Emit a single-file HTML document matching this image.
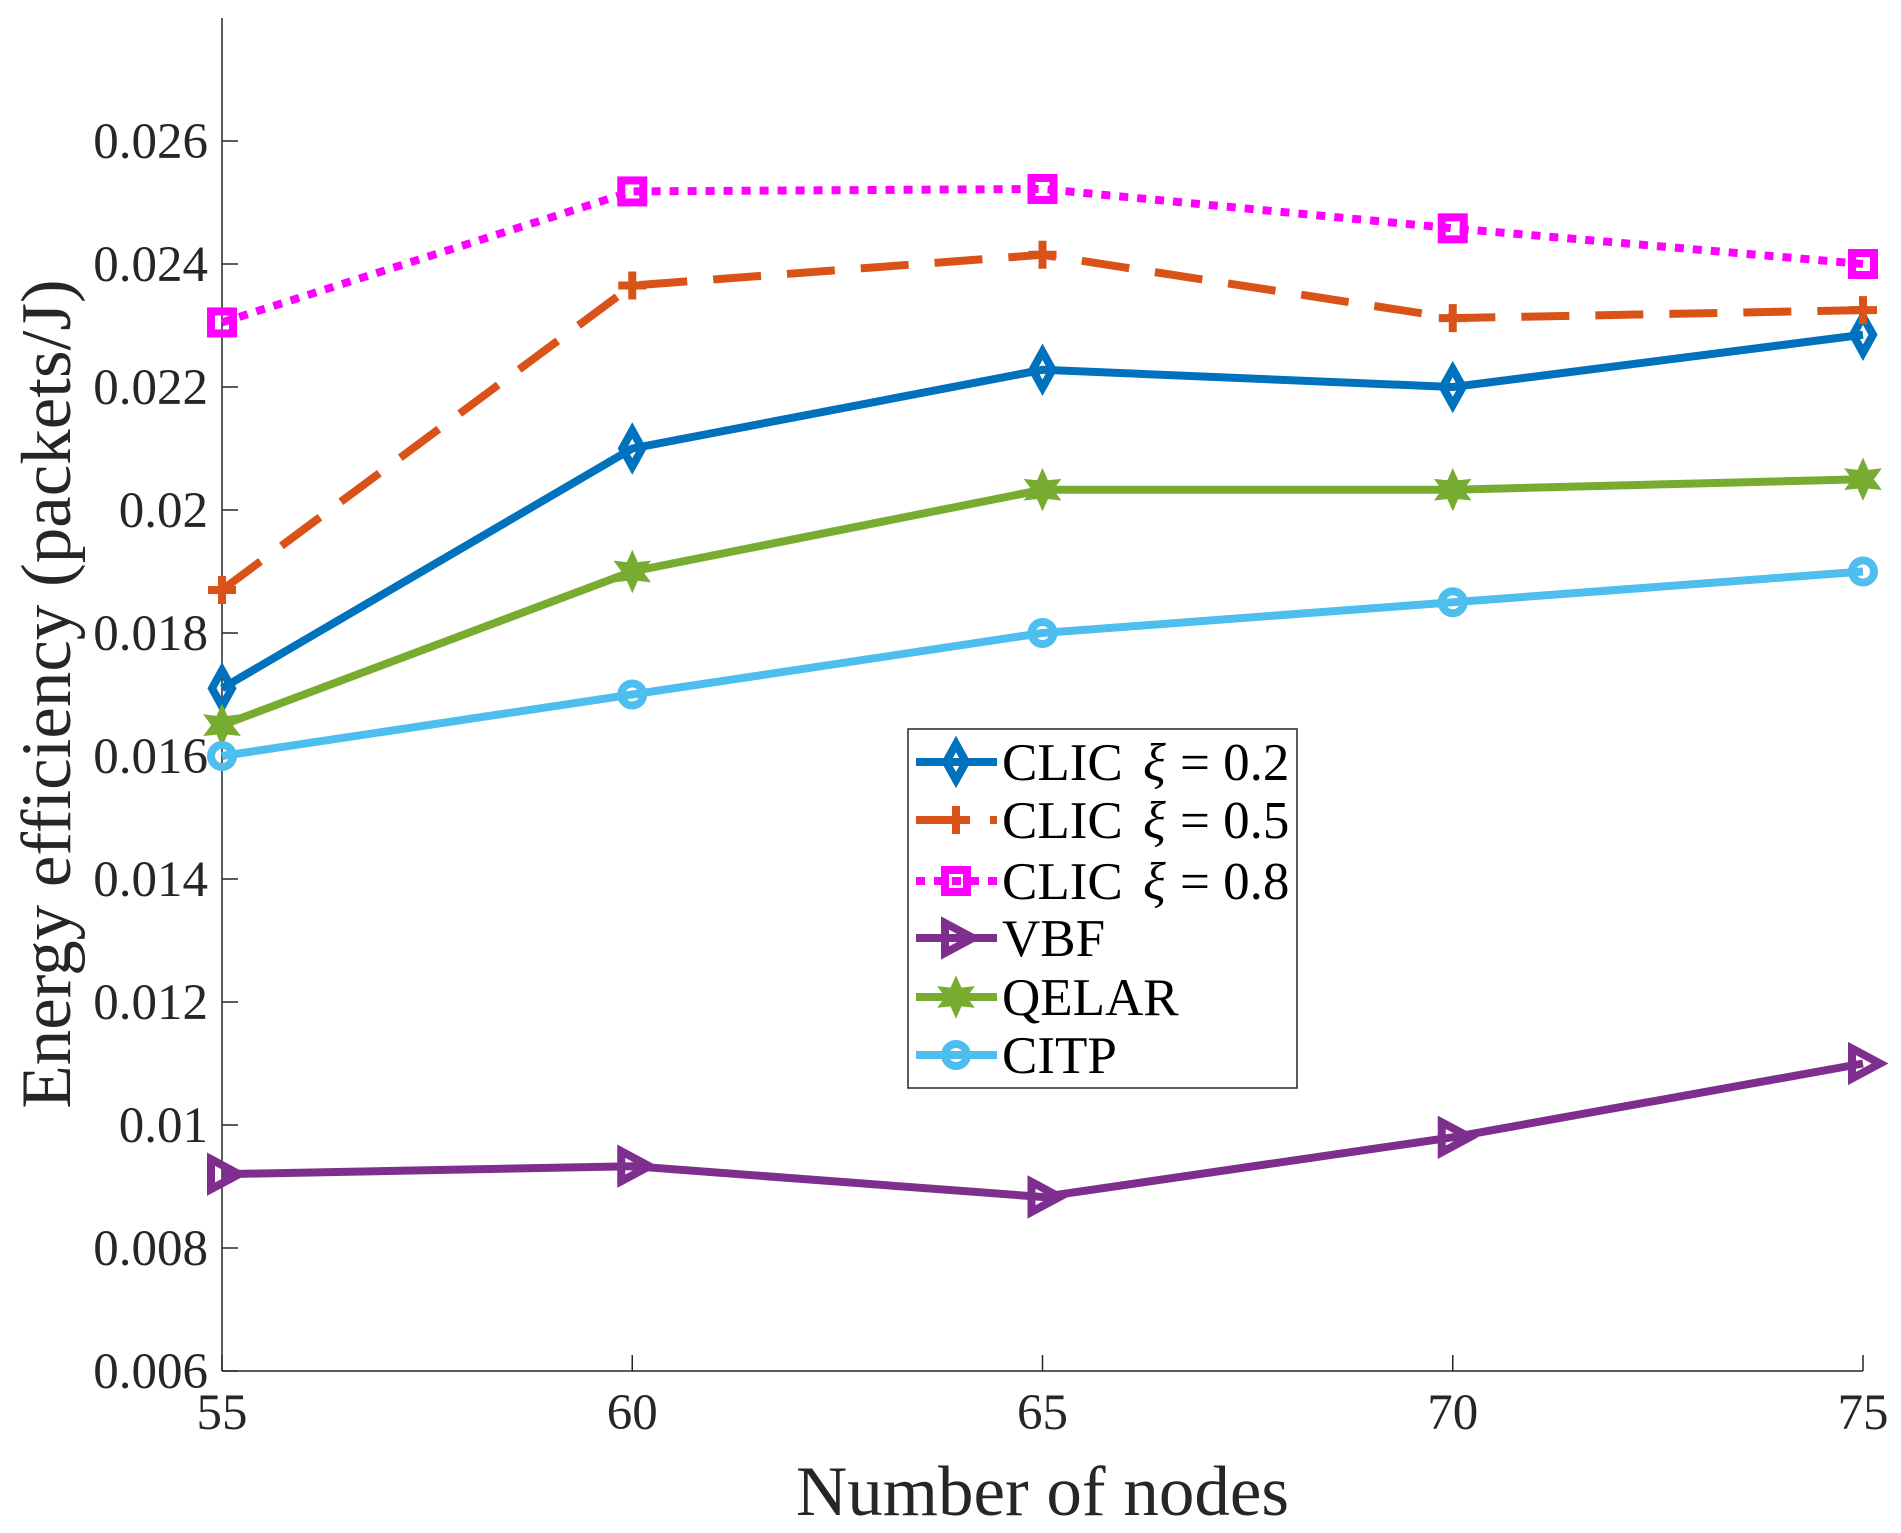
<!DOCTYPE html>
<html><head><meta charset="utf-8"><style>
html,body{margin:0;padding:0;background:#fff;}
svg{display:block;font-family:"Liberation Serif",serif;}
</style></head><body>
<svg id="chart" width="1901" height="1533" viewBox="0 0 1901 1533">
<g id="axes"></g>
<g id="series"></g>
<g id="legend"></g>
</svg>
<script>
const categories = [55, 60, 65, 70, 75];
const clic02 = [0.0171, 0.0210, 0.02228, 0.0220, 0.02285];
const clic05 = [0.0187, 0.02365, 0.02415, 0.02312, 0.02325];
const clic08 = [0.02305, 0.02518, 0.02522, 0.02458, 0.0240];
const vbf = [0.0092, 0.00933, 0.00883, 0.0098, 0.0110];
const qelar = [0.0165, 0.0190, 0.02033, 0.02033, 0.0205];
const citp = [0.0160, 0.0170, 0.0180, 0.0185, 0.0190];
const yTicks = [0.006, 0.008, 0.01, 0.012, 0.014, 0.016, 0.018, 0.02, 0.022, 0.024, 0.026];
const yTickLabels = ["0.006","0.008","0.01","0.012","0.014","0.016","0.018","0.02","0.022","0.024","0.026"];
const xTickLabels = ["55","60","65","70","75"];

const NS="http://www.w3.org/2000/svg";
const L=222,R=1863,T=18,B=1371;
const X=v=>L+(v-55)/(75-55)*(R-L);
const Y=v=>B-(v-0.006)/(0.028-0.006)*(B-T);
function mk(tag,attrs,parent){const e=document.createElementNS(NS,tag);for(const k in attrs)e.setAttribute(k,attrs[k]);parent.appendChild(e);return e;}
const ax=document.getElementById('axes');
let e;
e=mk('line',{x1:L,y1:T,x2:L,y2:B,stroke:'#262626','stroke-width':1.5},ax);


e=mk('line',{x1:L,y1:B,x2:R,y2:B,stroke:'#262626','stroke-width':1.5},ax);


yTicks.forEach((v,i)=>{
  const t=mk('line',{x1:L,y1:Y(v),x2:L+16,y2:Y(v),stroke:'#262626','stroke-width':1.5},ax);
  
  
  const tx=mk('text',{x:L-14,y:Y(v)+17,'text-anchor':'end','font-size':51,fill:'#262626'},ax);
  tx.textContent=yTickLabels[i];
  
  
});
categories.forEach((c,i)=>{
  const t=mk('line',{x1:X(c),y1:B,x2:X(c),y2:B-16,stroke:'#262626','stroke-width':1.5},ax);
  
  
  const tx=mk('text',{x:X(c),y:B+58,'text-anchor':'middle','font-size':51,fill:'#262626'},ax);
  tx.textContent=xTickLabels[i];
  
  
});
e=mk('text',{x:(L+R)/2,y:1515,'text-anchor':'middle','font-size':71,fill:'#262626'},ax);
e.textContent='Number of nodes';


e=mk('text',{x:0,y:0,'text-anchor':'middle','font-size':71,fill:'#262626',transform:'translate(70,694) rotate(-90)'},ax);
e.textContent='Energy efficiency (packets/J)';



const SW=8;
function marker(type,x,y,color,g){
  const s=14;
  if(type==='diamond') return mk('polygon',{points:`${x},${y-s-4} ${x+s-4},${y} ${x},${y+s+4} ${x-s+4},${y}`,fill:'none',stroke:color,'stroke-width':SW},g);
  if(type==='plus') return mk('path',{d:`M${x-s},${y}H${x+s}M${x},${y-s}V${y+s}`,stroke:color,'stroke-width':SW,fill:'none'},g);
  if(type==='square') return mk('rect',{x:x-11,y:y-11,width:22,height:22,fill:'none',stroke:color,'stroke-width':SW},g);
  if(type==='tri') return mk('polygon',{points:`${x-11},${y-15} ${x+17},${y} ${x-11},${y+15}`,fill:'none',stroke:color,'stroke-width':SW},g);
  if(type==='star'){let pts=[];for(let k=0;k<12;k++){const r=k%2?9:18;const a=-Math.PI/2+k*Math.PI/6;pts.push((x+r*Math.cos(a)).toFixed(1)+','+(y+r*Math.sin(a)).toFixed(1));}return mk('polygon',{points:pts.join(' '),fill:color,stroke:color,'stroke-width':3},g);}
  if(type==='circle') return mk('circle',{cx:x,cy:y,r:11,fill:'none',stroke:color,'stroke-width':SW},g);
}
const seriesDefs=[
  {name:'clic-0.2',data:clic02,color:'#0072BD',dash:'',m:'diamond',label:'0.2',clic:true},
  {name:'clic-0.5',data:clic05,color:'#D95319',dash:'48,26',m:'plus',label:'0.5',clic:true},
  {name:'clic-0.8',data:clic08,color:'#FF00FF',dash:'9,9',m:'square',label:'0.8',clic:true},
  {name:'vbf',data:vbf,color:'#7E2F8E',dash:'',m:'tri',label:'VBF'},
  {name:'qelar',data:qelar,color:'#77AC30',dash:'',m:'star',label:'QELAR'},
  {name:'citp',data:citp,color:'#4DBEEE',dash:'',m:'circle',label:'CITP'}
];
const sg=document.getElementById('series');
seriesDefs.forEach(s=>{
  const g=mk('g',{},sg);
  
  
  const pts=s.data.map((v,i)=>X(categories[i])+','+Y(v)).join(' ');
  const pl=mk('polyline',{points:pts,fill:'none',stroke:s.color,'stroke-width':SW,'stroke-dasharray':s.dash,'stroke-linejoin':'round'},g);
  
  
  s.data.forEach((v,i)=>{
    const m=marker(s.m,X(categories[i]),Y(v),s.color,g);
    
    
  });
});
const lg=document.getElementById('legend');
e=mk('rect',{x:908,y:729,width:389,height:359,fill:'#fff',stroke:'#262626','stroke-width':1.5},lg);


const rowY=[762,820,881,938,997,1055];
seriesDefs.forEach((s,i)=>{
  const g=mk('g',{},lg);
  
  
  const y=rowY[i];
  mk('line',{x1:916,y1:y,x2:997,y2:y,stroke:s.color,'stroke-width':SW,'stroke-dasharray':s.dash},g);
  marker(s.m,956,y,s.color,g);
  const t=mk('text',{x:1002,y:y+18,'font-size':53,fill:'#000'},g);
  t.textContent=s.clic?'CLIC':s.label;
  if(s.clic){
    const t1=mk('text',{x:1143,y:y+18,'font-size':53,'font-style':'italic',fill:'#000'},g);
    t1.textContent='ξ';
    const t2=mk('text',{x:1180,y:y+18,'font-size':53,fill:'#000'},g);
    t2.textContent='= '+s.label;
  }
});
</script>
</body></html>
